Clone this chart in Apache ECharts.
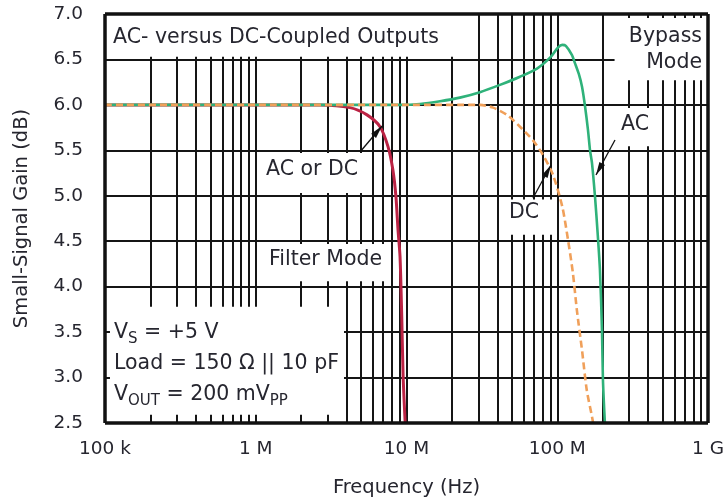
<!DOCTYPE html>
<html><head><meta charset="utf-8">
<script src="https://cdn.jsdelivr.net/npm/echarts@6/dist/echarts.min.js"></script>
<style>html,body{margin:0;padding:0;background:#fff}#c{width:727px;height:502px}</style>
</head><body><div id="c"></div>
<script>
// ---- data ----
const xTickValues = [1e5, 1e6, 1e7, 1e8, 1e9];
const xTickLabels = ['100 k', '1 M', '10 M', '100 M', '1 G'];
const yTickValues = [2.5, 3.0, 3.5, 4.0, 4.5, 5.0, 5.5, 6.0, 6.5, 7.0];
const gridDecades = [1e5, 1e6, 1e7, 1e8];
const gridMultipliers = [1, 2, 3, 4, 5, 6, 7, 8, 9];

// Filter mode (AC or DC)
const filterFreq = [1e5, 1e6, 2.67e6, 4.22e6, 5.47e6, 6.67e6, 7.54e6, 8.13e6, 8.51e6, 8.79e6, 9.06e6, 9.3e6, 9.5e6, 9.8e6];
const filterGain = [6.0, 6.0, 6.0, 5.97, 5.89, 5.76, 5.54, 5.28, 4.99, 4.62, 4.33, 3.67, 3.0, 2.5];
// Bypass mode, AC coupled
const acFreq = [1e5, 1e6, 9e6, 12.3e6, 16.7e6, 22.6e6, 30.7e6, 41.7e6, 56.6e6, 73.4e6, 89.6e6, 101e6, 108e6, 114e6, 125e6, 131e6, 139e6, 146e6, 153e6, 160e6, 165e6, 170e6, 178e6, 186e6, 192e6, 198e6, 201e6, 207e6];
const acGain = [6.0, 6.0, 6.0, 6.01, 6.04, 6.08, 6.14, 6.22, 6.31, 6.40, 6.52, 6.63, 6.66, 6.65, 6.55, 6.46, 6.34, 6.2, 5.98, 5.72, 5.5, 5.36, 4.99, 4.55, 4.18, 3.52, 2.97, 2.5];
// Bypass mode, DC coupled
const dcFreq = [1e5, 1e6, 1e7, 30.7e6, 37.5e6, 46.4e6, 56.6e6, 69e6, 80.4e6, 93.7e6, 108e6, 118e6, 127e6, 135e6, 146e6, 157e6, 170e6, 173e6];
const dcGain = [6.0, 6.0, 6.0, 6.0, 5.97, 5.89, 5.76, 5.61, 5.45, 5.23, 4.88, 4.51, 4.15, 3.74, 3.30, 2.86, 2.57, 2.5];

// ---- build ----
const FONT = 'DejaVu Sans';
const TXT = '#26262f';
const pair = (xs, ys) => xs.map((x, i) => [x, ys[i]]);

const gridLineData = [];
gridDecades.forEach(d => gridMultipliers.forEach(m => {
  const v = d * m;
  if (v > xTickValues[0]) gridLineData.push({ xAxis: v });
}));
yTickValues.slice(1, -1).forEach(v => gridLineData.push({ yAxis: v }));

const borderData = [
  { xAxis: xTickValues[0] }, { xAxis: xTickValues[xTickValues.length - 1] },
  { yAxis: yTickValues[0] }, { yAxis: yTickValues[yTickValues.length - 1] }
];

// white boxes behind the annotation texts (data coordinates)
const masks = [
  [[1e5, 6.53], [2.5e7, 7.0]],
  [[2.4e8, 6.27], [1e9, 6.955]],
  [[2.4e8, 5.545], [4.6e8, 5.965]],
  [[4.4e7, 4.57], [9.3e7, 4.96]],
  [[1.07e6, 5.03], [5.6e6, 5.47]],
  [[1.07e6, 4.06], [7.5e6, 4.47]],
  [[1.079e5, 2.59], [3.85e6, 3.78]]
].map(b => [{ xAxis: b[0][0], yAxis: b[0][1] }, { xAxis: b[1][0], yAxis: b[1][1] }]);

function arrow(tx, ty, hx, hy) {
  const dx = hx - tx, dy = hy - ty, L = Math.hypot(dx, dy);
  const ux = dx / L, uy = dy / L, nx = -uy, ny = ux;
  const bx = hx - ux * 13, by = hy - uy * 13;
  return [
    { type: 'line', z: 20, shape: { x1: tx, y1: ty, x2: hx, y2: hy }, style: { stroke: '#111', lineWidth: 1.3 } },
    { type: 'polygon', z: 20, shape: { points: [[hx, hy], [bx + nx * 3.2, by + ny * 3.2], [bx - nx * 3.2, by - ny * 3.2]] }, style: { fill: '#111' } }
  ];
}
function label(x, y, text, align) {
  return {
    type: 'text', z: 20, x: x, y: y,
    style: { text: text, fontFamily: FONT, fontSize: 20.5, fill: TXT, align: align || 'left', verticalAlign: 'middle' }
  };
}
const richStyle = {
  m: { fontFamily: FONT, fontSize: 20.5, fill: TXT, lineHeight: 28, verticalAlign: 'middle' },
  s: { fontFamily: FONT, fontSize: 15, fill: TXT, lineHeight: 15, verticalAlign: 'bottom' }
};
function richLabel(x, y, text) {
  return { type: 'text', z: 20, x: x, y: y, style: { text: text, rich: richStyle, align: 'left', verticalAlign: 'middle' } };
}

const graphics = [
  label(113, 38, 'AC- versus DC-Coupled Outputs'),
  label(702, 37, 'Bypass', 'right'),
  label(702, 63, 'Mode', 'right'),
  label(635, 125, 'AC', 'center'),
  label(524, 213, 'DC', 'center'),
  label(266, 170, 'AC or DC'),
  label(269, 260, 'Filter Mode'),
  richLabel(114, 333, '{m|V}{s|S}{m| = +5 V}'),
  label(114, 364, 'Load = 150 Ω || 10 pF'),
  richLabel(114, 395, '{m|V}{s|OUT}{m| = 200 mV}{s|PP}')
].concat(arrow(360, 152, 382, 126), arrow(533, 198, 551, 165), arrow(615, 140, 596, 175));

const chart = echarts.init(document.getElementById('c'), null, { renderer: 'canvas' });
chart.setOption({
  animation: false,
  backgroundColor: '#fff',
  grid: { left: 105, right: 19, top: 14, bottom: 79, containLabel: false, outerBoundsMode: 'none' },
  xAxis: {
    type: 'log', logBase: 10, min: xTickValues[0], max: xTickValues[xTickValues.length - 1],
    axisLine: { show: false }, axisTick: { show: false }, splitLine: { show: false }, minorSplitLine: { show: false },
    axisLabel: {
      margin: 17, fontFamily: FONT, fontSize: 18.5, color: TXT,
      formatter: v => { const i = xTickValues.findIndex(t => Math.abs(Math.log10(t) - Math.log10(v)) < 1e-6); return i >= 0 ? xTickLabels[i] : ''; }
    },
    name: 'Frequency (Hz)', nameLocation: 'middle', nameGap: 55,
    nameTextStyle: { fontFamily: FONT, fontSize: 19.5, color: TXT }
  },
  yAxis: {
    type: 'value', min: yTickValues[0], max: yTickValues[yTickValues.length - 1], interval: 0.5,
    axisLine: { show: false }, axisTick: { show: false }, splitLine: { show: false },
    axisLabel: { margin: 22, fontFamily: FONT, fontSize: 18.5, color: TXT, formatter: v => v.toFixed(1) },
    name: 'Small-Signal Gain (dB)', nameLocation: 'middle', nameGap: 73, nameRotate: 90,
    nameTextStyle: { fontFamily: FONT, fontSize: 19.5, color: TXT }
  },
  series: [
    {
      name: 'grid', type: 'line', data: [], silent: true, clip: false,
      markLine: { silent: true, z: 1, symbol: ['none', 'none'], label: { show: false }, emphasis: { disabled: true },
        lineStyle: { color: '#151515', width: 2, type: 'solid' }, data: gridLineData },
      markArea: { silent: true, z: 2, itemStyle: { color: '#ffffff', borderWidth: 0 }, label: { show: false }, emphasis: { disabled: true }, data: masks }
    },
    {
      name: 'Filter Mode', type: 'line', z: 3, data: pair(filterFreq, filterGain), symbol: 'none', smooth: 0.25,
      lineStyle: { color: '#bb2344', width: 3 }, silent: true
    },
    {
      name: 'AC', type: 'line', z: 4, data: pair(acFreq, acGain), symbol: 'none', smooth: 0.25,
      lineStyle: { color: '#2fb27a', width: 2.6 }, silent: true
    },
    {
      name: 'DC', type: 'line', z: 5, data: pair(dcFreq, dcGain), symbol: 'none', smooth: 0.25,
      lineStyle: { color: '#f0a05a', width: 2.6, type: [7, 4] }, silent: true
    },
    {
      name: 'border', type: 'line', data: [], silent: true, clip: false,
      markLine: { silent: true, z: 8, symbol: ['none', 'none'], label: { show: false }, emphasis: { disabled: true },
        lineStyle: { color: '#111', width: 3.5, type: 'solid' }, data: borderData }
    }
  ],
  graphic: graphics
});
</script></body></html>
